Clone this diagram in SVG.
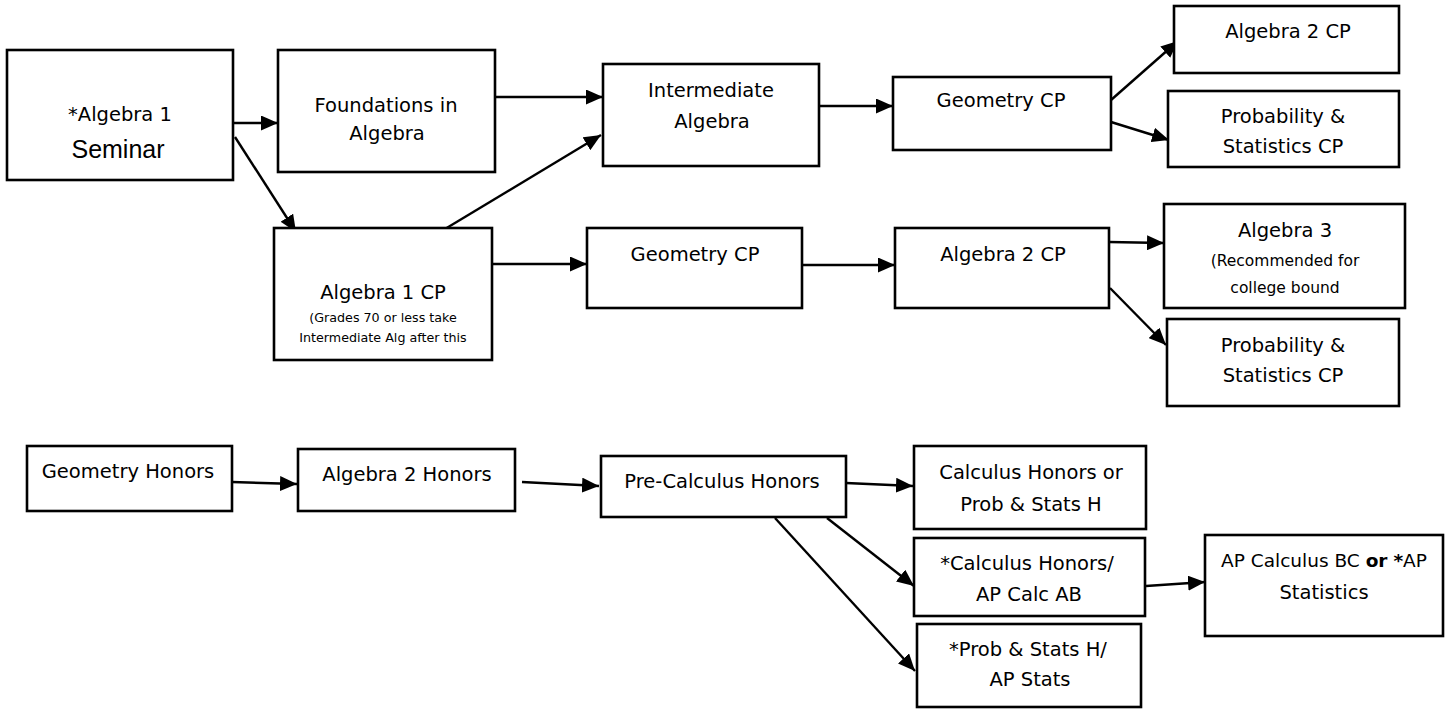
<svg xmlns="http://www.w3.org/2000/svg" width="1451" height="711" viewBox="0 0 1451 711">
<style>
  .box { fill: #ffffff; stroke: #000000; stroke-width: 2.6; }
  .t { font-family: "DejaVu Sans", "Liberation Sans", sans-serif; font-size: 19.5px; fill: #000000; text-anchor: middle; }
  .s { font-size: 12.7px; }
  .m { font-size: 15.5px; }
  .big { font-family: "Liberation Sans", Arial, sans-serif; font-size: 25px; }
  .b { font-weight: bold; }
  .c { fill: none; stroke: #000000; stroke-width: 2.4; marker-end: url(#ah); }
</style>
<defs>
  <marker id="ah" markerUnits="userSpaceOnUse" markerWidth="18" markerHeight="15" refX="17" refY="7.5" orient="auto">
    <path d="M0,0 L17,7.5 L0,15 Z" fill="#000000"/>
  </marker>
</defs>
<rect width="1451" height="711" fill="#ffffff"/>

<g id="connectors">
  <line class="c" x1="233" y1="123" x2="278" y2="123"/>
  <line class="c" x1="235" y1="137" x2="296" y2="232"/>
  <line class="c" x1="492" y1="97" x2="603" y2="97"/>
  <line class="c" x1="440" y1="232" x2="601" y2="135"/>
  <line class="c" x1="819" y1="106" x2="893" y2="106"/>
  <line class="c" x1="1111" y1="100" x2="1178" y2="41"/>
  <line class="c" x1="1111" y1="122" x2="1169" y2="140"/>
  <line class="c" x1="492" y1="264" x2="587" y2="264"/>
  <line class="c" x1="802" y1="265" x2="895" y2="265"/>
  <line class="c" x1="1109" y1="242" x2="1164" y2="243"/>
  <line class="c" x1="1110" y1="288" x2="1166" y2="345"/>
  <line class="c" x1="232" y1="482" x2="297" y2="484"/>
  <line class="c" x1="522" y1="482" x2="599" y2="486"/>
  <line class="c" x1="846" y1="483" x2="913" y2="486"/>
  <line class="c" x1="827" y1="518" x2="914" y2="586"/>
  <line class="c" x1="775" y1="518" x2="915" y2="671"/>
  <line class="c" x1="1146" y1="586" x2="1205" y2="582"/>
</g>

<g id="alg1-seminar">
  <rect class="box" x="7" y="50" width="226" height="130"/>
  <text class="t" x="120" y="121" style="font-size:19.5px">*Algebra 1</text>
  <text class="t big" x="118" y="158">Seminar</text>
</g>
<g id="foundations">
  <rect class="box" x="278" y="50" width="217" height="122"/>
  <text class="t" x="386" y="112">Foundations in</text>
  <text class="t" x="387" y="140">Algebra</text>
</g>
<g id="intermediate">
  <rect class="box" x="603" y="64" width="216" height="102"/>
  <text class="t" x="711" y="97">Intermediate</text>
  <text class="t" x="712" y="128">Algebra</text>
</g>
<g id="geometry-cp-1">
  <rect class="box" x="893" y="77" width="218" height="73"/>
  <text class="t" x="1001" y="107">Geometry CP</text>
</g>
<g id="algebra2-cp-1">
  <rect class="box" x="1174" y="6" width="225" height="67"/>
  <text class="t" x="1288" y="38">Algebra 2 CP</text>
</g>
<g id="probstats-cp-1">
  <rect class="box" x="1168" y="91" width="231" height="76"/>
  <text class="t" x="1283" y="123">Probability &amp;</text>
  <text class="t" x="1283" y="153">Statistics CP</text>
</g>
<g id="algebra1-cp">
  <rect class="box" x="274" y="228" width="218" height="132"/>
  <text class="t" x="383" y="299">Algebra 1 CP</text>
  <text class="t s" x="383" y="322">(Grades 70 or less take</text>
  <text class="t s" x="383" y="342">Intermediate Alg after this</text>
</g>
<g id="geometry-cp-2">
  <rect class="box" x="587" y="228" width="215" height="80"/>
  <text class="t" x="695" y="261">Geometry CP</text>
</g>
<g id="algebra2-cp-2">
  <rect class="box" x="895" y="228" width="214" height="80"/>
  <text class="t" x="1003" y="261">Algebra 2 CP</text>
</g>
<g id="algebra3">
  <rect class="box" x="1164" y="204" width="241" height="104"/>
  <text class="t" x="1285" y="237">Algebra 3</text>
  <text class="t m" x="1285" y="266">(Recommended for</text>
  <text class="t m" x="1285" y="293">college bound</text>
</g>
<g id="probstats-cp-2">
  <rect class="box" x="1167" y="319" width="232" height="87"/>
  <text class="t" x="1283" y="352">Probability &amp;</text>
  <text class="t" x="1283" y="382">Statistics CP</text>
</g>
<g id="geometry-honors">
  <rect class="box" x="27" y="446" width="205" height="65"/>
  <text class="t" x="128" y="478">Geometry Honors</text>
</g>
<g id="algebra2-honors">
  <rect class="box" x="298" y="449" width="217" height="62"/>
  <text class="t" x="407" y="481">Algebra 2 Honors</text>
</g>
<g id="precalc-honors">
  <rect class="box" x="601" y="456" width="245" height="61"/>
  <text class="t" x="722" y="488">Pre-Calculus Honors</text>
</g>
<g id="calc-honors-or">
  <rect class="box" x="914" y="446" width="232" height="83"/>
  <text class="t" x="1031" y="479">Calculus Honors or</text>
  <text class="t" x="1031" y="511">Prob &amp; Stats H</text>
</g>
<g id="calc-ab">
  <rect class="box" x="914" y="538" width="231" height="78"/>
  <text class="t" x="1027" y="570">*Calculus Honors/</text>
  <text class="t" x="1029" y="601">AP Calc AB</text>
</g>
<g id="probstats-ap">
  <rect class="box" x="917" y="624" width="224" height="83"/>
  <text class="t" x="1028" y="656">*Prob &amp; Stats H/</text>
  <text class="t" x="1030" y="686">AP Stats</text>
</g>
<g id="ap-calc-bc">
  <rect class="box" x="1205" y="535" width="238" height="101"/>
  <text class="t" x="1324" y="567" style="font-size:18.5px">AP Calculus BC <tspan class="b">or</tspan> <tspan class="b">*</tspan>AP</text>
  <text class="t" x="1324" y="599">Statistics</text>
</g>
</svg>
